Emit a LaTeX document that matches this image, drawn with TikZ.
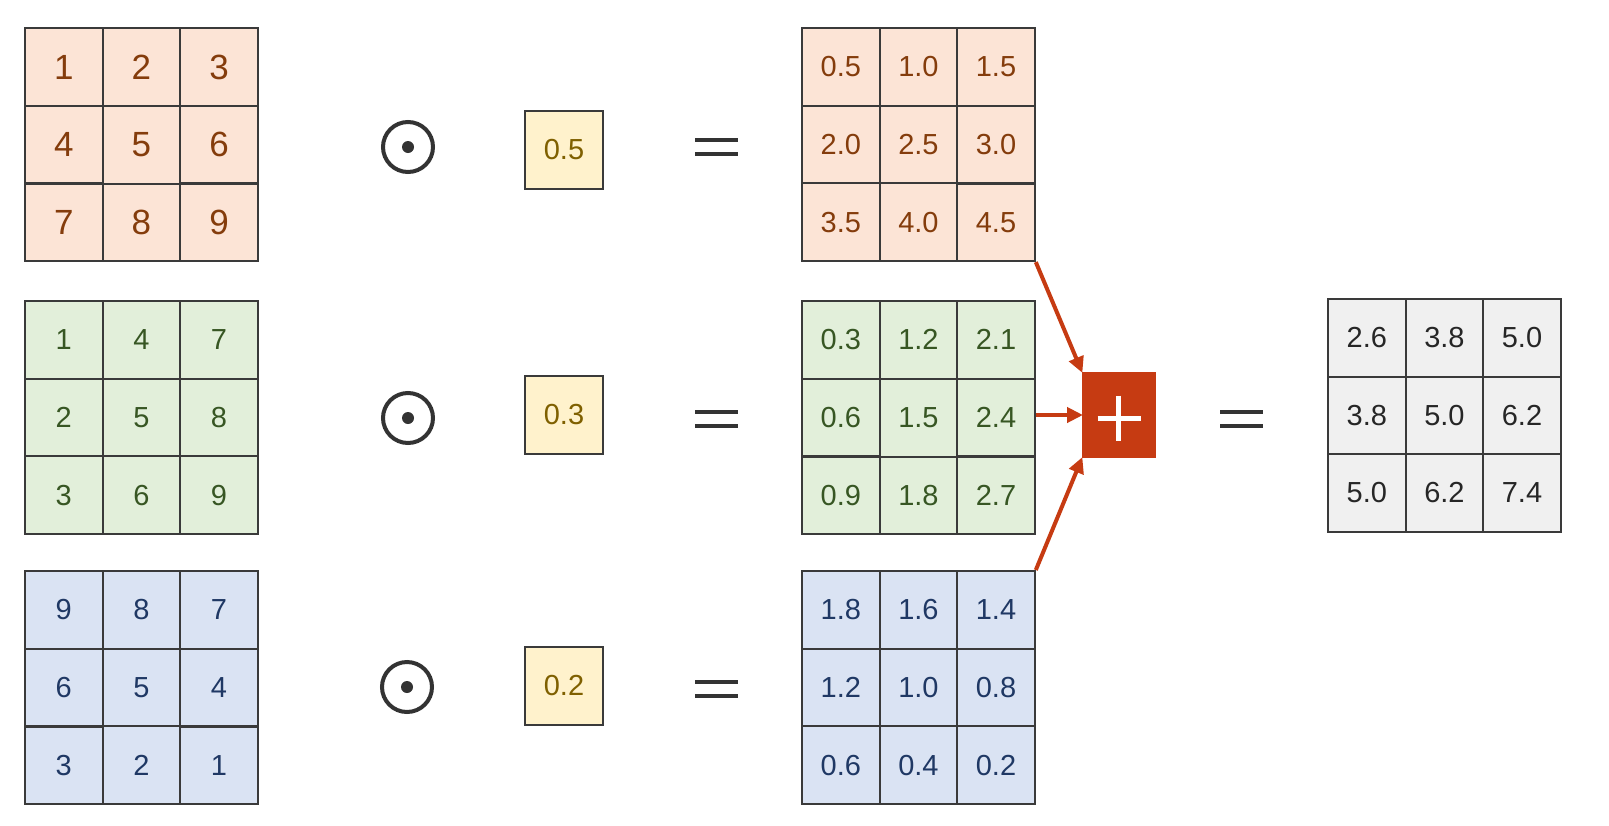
\documentclass[tikz,border=0pt]{standalone}
\usepackage{fontspec}
\setmainfont{Liberation Sans}
\usetikzlibrary{arrows.meta,matrix}
\definecolor{orfill}{HTML}{FCE4D6}
\definecolor{ortext}{HTML}{843C0C}
\definecolor{grfill}{HTML}{E2EFDA}
\definecolor{grtext}{HTML}{375623}
\definecolor{blfill}{HTML}{DAE3F3}
\definecolor{bltext}{HTML}{1F3864}
\definecolor{yefill}{HTML}{FFF2CC}
\definecolor{yetext}{HTML}{7F6000}
\definecolor{gyfill}{HTML}{F0F0F0}
\definecolor{gytext}{HTML}{262626}
\definecolor{plusred}{HTML}{C63B12}
\definecolor{edgecol}{HTML}{3A3A3A}
\definecolor{symcol}{HTML}{333333}
\newcommand\myeq[2]{%
  \node[eqbox] (#1) at (#2) {};
  \draw[eqline] (#1.north west) -- (#1.north east) (#1.south west) -- (#1.south east);}
\newcommand\myodot[2]{%
  \node[odotsym] (#1) at (#2) {};
  \fill[symcol] (#1.center) circle[radius=6pt];}
\begin{document}
\begin{tikzpicture}[x=1pt,y=-1pt,
  cell/.style={draw=edgecol, line width=2pt, minimum size=77.6pt, inner sep=0pt, outer sep=0pt,
    font=\fontsize{29}{34}\selectfont},
  grid/.style={matrix of nodes, inner sep=0pt, outer sep=0pt, column sep=-2pt, row sep=-2pt, anchor=north west},
  ormat/.style={grid, nodes={cell, fill=orfill, text=ortext}},
  grmat/.style={grid, nodes={cell, fill=grfill, text=grtext}},
  blmat/.style={grid, nodes={cell, fill=blfill, text=bltext}},
  gymat/.style={grid, nodes={cell, fill=gyfill, text=gytext}},
  scalar/.style={draw=edgecol, line width=2pt, fill=yefill, text=yetext, minimum size=78pt, inner sep=0pt,
    font=\fontsize{29}{34}\selectfont},
  eqbox/.style={minimum width=43pt, minimum height=14pt, inner sep=0pt, outer sep=0pt},
  eqline/.style={draw=symcol, line width=4pt},
  odotsym/.style={circle, draw=symcol, line width=4pt, minimum size=50pt, inner sep=0pt},
  plusbox/.style={fill=plusred, minimum width=74pt, minimum height=86pt, inner sep=0pt, outer sep=0pt},
  arr/.style={draw=plusred, line width=4pt, -{Triangle[length=16pt,width=15pt]}, shorten >=-1pt}
]
\fill[white] (0,0) rectangle (1609,825);
\useasboundingbox (0,0) rectangle (1609,825);

% left matrices
\matrix (L1) [ormat, nodes={font=\fontsize{35}{40}\selectfont}] at (24,27) {
1 & 2 & 3\\
4 & 5 & 6\\
7 & 8 & 9\\};
\matrix (L2) [grmat] at (24,300) {
1 & 4 & 7\\
2 & 5 & 8\\
3 & 6 & 9\\};
\matrix (L3) [blmat] at (24,570) {
9 & 8 & 7\\
6 & 5 & 4\\
3 & 2 & 1\\};

% operators and scalars
\myodot{o1}{408,147}
\myodot{o2}{408,418}
\myodot{o3}{407,687}
\node[scalar] (s1) at (564,150) {0.5};
\node[scalar] (s2) at (564,415) {0.3};
\node[scalar] (s3) at (564,686) {0.2};
\myeq{e1}{716.5,147}
\myeq{e2}{716.5,418.5}
\myeq{e3}{716.5,689}

% middle matrices
\matrix (M1) [ormat] at (801,27) {
0.5 & 1.0 & 1.5\\
2.0 & 2.5 & 3.0\\
3.5 & 4.0 & 4.5\\};
\matrix (M2) [grmat] at (801,300) {
0.3 & 1.2 & 2.1\\
0.6 & 1.5 & 2.4\\
0.9 & 1.8 & 2.7\\};
\matrix (M3) [blmat] at (801,570) {
1.8 & 1.6 & 1.4\\
1.2 & 1.0 & 0.8\\
0.6 & 0.4 & 0.2\\};

% sum
\node[plusbox] (plus) at (1119,415) {};
\draw[white, line width=5pt] ([xshift=-21.5pt,yshift=-3pt]plus.center) -- ([xshift=21.5pt,yshift=-3pt]plus.center);
\draw[white, line width=5pt] ([xshift=-1pt,yshift=19.5pt]plus.center) -- ([xshift=-1pt,yshift=-25.5pt]plus.center);
\draw[arr] (M1.south east) -- (plus.north west);
\draw[arr] (M2.east |- plus.west) -- (plus.west);
\draw[arr] (M3.north east) -- (plus.south west);

\myeq{e4}{1241.5,419}

\matrix (R) [gymat] at (1327,298) {
2.6 & 3.8 & 5.0\\
3.8 & 5.0 & 6.2\\
5.0 & 6.2 & 7.4\\};
\end{tikzpicture}
\end{document}
